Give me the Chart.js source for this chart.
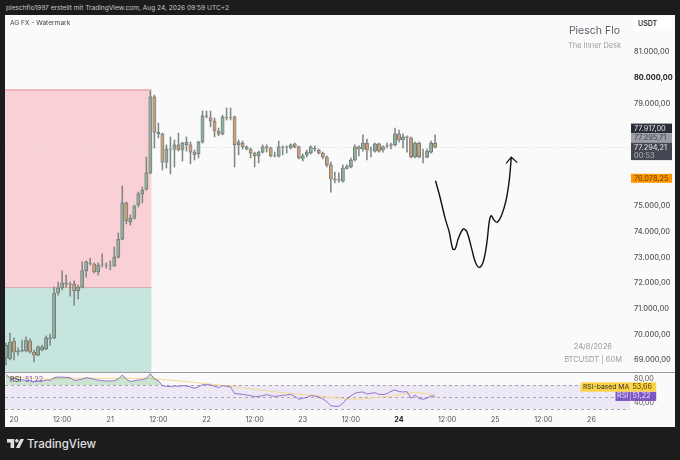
<!DOCTYPE html>
<html>
<head>
<meta charset="utf-8">
<title>BTCUSDT</title>
<script src="https://cdn.jsdelivr.net/npm/chart.js@4/dist/chart.umd.min.js"></script>
<style>
  html, body { margin: 0; padding: 0; width: 680px; height: 460px; overflow: hidden; background: #1c1c1c; font-family: Inter, "Noto Sans", sans-serif; }
  .txt { position: absolute; white-space: nowrap; }
  #panel { position: absolute; left: 5px; top: 15px; width: 670px; height: 412px; background: #fafafa; }
  #mainCanvas { position: absolute; left: 5px; top: 15px; }
  #rsiCanvas { position: absolute; left: 5px; top: 373px; }
  #sep { position: absolute; left: 5px; top: 372px; width: 670px; height: 1px; background: #9a9a9a; }
  #usdt { position: absolute; left: 633px; top: 16px; width: 39px; height: 15px; background: #fff; color: #333; font-size: 7px; font-weight: 600; line-height: 15px; text-indent: 5px; }
</style>
</head>
<body>
<div class="txt" style="left:6px;top:4px;color:#c8c8c8;font-size:6.6px;">pieschflo1997 erstellt mit TradingView.com, Aug 24, 2026 09:59 UTC+2</div>
<div id="panel"></div>
<canvas id="mainCanvas" width="670" height="357"></canvas>
<canvas id="rsiCanvas" width="670" height="54"></canvas>
<div id="sep"></div>
<div id="usdt">USDT</div>
<div class="txt" style="left:10px;top:19px;color:#444;font-size:6.6px;">AG FX - Watermark</div>
<div class="txt" style="right:60px;top:24px;color:#5d606b;font-size:10.5px;">Piesch Flo</div>
<div class="txt" style="right:59px;top:41px;color:#9a9ca3;font-size:7.4px;">The Inner Desk</div>
<div class="txt" style="right:68px;top:342px;color:#9a9ca3;font-size:7.6px;">24/8/2026</div>
<div class="txt" style="right:58px;top:355px;color:#9a9ca3;font-size:7.5px;">BTCUSDT | 60M</div>
<svg class="txt" style="left:7px;top:439px;" width="17" height="9" viewBox="0 0 19 10">
  <path d="M0 0H8V10H4V4H0Z M15 0H19L14 10H10Z" fill="#e0e0e0"/><circle cx="11" cy="2" r="2" fill="#e0e0e0"/>
</svg>
<div class="txt" style="left:27px;top:437px;color:#e0e0e0;font-size:11.5px;font-weight:500;">TradingView</div>

<script>
// hour offset from Aug 20 00:00, one candle per hour
var hours = [];
for (var n = -2; n <= 105; n++) hours.push(n);

var opens = [
  69080, 69040, 69740, 69310, 69350, 69350, 69740, 69310, 69190, 69390, 69430, 69820,
  69860, 71610, 71810, 71960, 71960, 71960, 71690, 71840, 72470, 72780, 72740, 72430,
  72700, 72700, 72690, 72660, 73010, 73710, 75120, 74380, 74530, 75040, 75470, 75660,
  76290, 79250, 77810, 77800, 76710, 77220, 77210, 77380, 77180, 77380, 77380, 77100,
  77030, 77490, 78510, 78430, 78310, 77920, 77800, 78430, 78440, 78470, 77380, 77450,
  77220, 77220, 77060, 76950, 77100, 77300, 77260, 76950, 76940, 77300, 77290, 77260,
  77420, 77300, 76830, 76990, 77060, 77220, 77180, 77060, 76910, 76600, 76050, 76030,
  75970, 76460, 76520, 76790, 77300, 77220, 77450, 77180, 77140, 77420, 77180, 77340,
  77360, 77380, 77810, 77570, 77690, 77650, 76910, 77450, 76910, 76900, 77100, 77450
];
var closes = [
  69580, 69700, 69310, 69350, 69390, 69780, 69310, 69190, 69510, 69510, 69860, 69860,
  71610, 71810, 72000, 72000, 71940, 71690, 71840, 72470, 72820, 72760, 72430, 72700,
  72710, 72690, 72700, 73010, 73710, 75120, 74420, 74530, 75000, 75470, 75620, 76290,
  79250, 77880, 77880, 76710, 77220, 77200, 77380, 77180, 77450, 77490, 77100, 76990,
  77490, 78510, 78490, 78310, 77920, 77800, 78470, 78440, 78430, 77380, 77490, 77300,
  77300, 77060, 76950, 77100, 77300, 77260, 76950, 76940, 77300, 77290, 77300, 77380,
  77300, 76870, 76950, 77100, 77300, 77260, 77060, 76910, 76600, 76050, 76030, 76010,
  76480, 76540, 76790, 77300, 77220, 77450, 77180, 77170, 77420, 77140, 77300, 77330,
  77380, 77810, 77570, 77690, 77670, 76910, 77450, 76910, 76900, 77140, 77450, 77294
];
var highs = [
  69660, 70050, 69860, 69470, 69780, 69900, 69820, 69390, 69550, 69580, 69940, 70010,
  71840, 72040, 72470, 72310, 72040, 72080, 71920, 72820, 72860, 72970, 72780, 72780,
  73130, 72780, 72860, 73400, 73950, 75780, 75150, 74650, 75040, 75540, 75740, 76910,
  79480, 79320, 78230, 77840, 77380, 77690, 77570, 77840, 77490, 77690, 77490, 77180,
  77530, 78700, 78700, 78700, 78430, 78040, 78540, 78820, 78820, 78510, 77570, 77530,
  77340, 77260, 77100, 77140, 77380, 77380, 77300, 77100, 77530, 77340, 77340, 77420,
  77450, 77340, 77030, 77180, 77340, 77340, 77220, 77100, 76950, 76710, 76320, 76290,
  76600, 76600, 76870, 77380, 77340, 77770, 77610, 77300, 77450, 77450, 77340, 77450,
  77450, 78040, 77960, 77810, 77730, 77690, 77490, 77490, 77220, 77220, 77530, 77770
];
var lows = [
  68810, 69000, 69000, 69190, 69310, 69310, 69270, 68920, 69160, 69350, 69390, 69580,
  69820, 71530, 71730, 71840, 71490, 71140, 71380, 71810, 72230, 72700, 72390, 72310,
  72620, 72580, 72510, 72650, 72970, 73680, 74300, 74260, 74490, 74960, 75120, 75620,
  76250, 77260, 77650, 76400, 76480, 76250, 76520, 77140, 76750, 77140, 76640, 76790,
  76870, 77450, 78430, 78080, 77690, 77730, 77770, 78350, 78350, 76520, 76990, 77220,
  77180, 76870, 76520, 76680, 77060, 77100, 76910, 76910, 76910, 76990, 77060, 77220,
  77260, 76830, 76750, 76910, 77030, 77140, 77030, 76830, 76520, 75540, 75900, 75930,
  75930, 76440, 76480, 76750, 76950, 77140, 76790, 76910, 77100, 77100, 77100, 77260,
  77220, 77340, 77490, 77260, 77100, 76870, 76870, 76870, 76680, 76870, 77060, 77260
];

var rsiValues = [
  87.8, 81.1, 81.1, 78.9, 78.9, 77.8, 77.2, 75.6, 77.2, 76.7, 78.3, 77.8,
  82.2, 83.3, 83.3, 82.8, 82.2, 77.8, 78.3, 80, 82.2, 81.1, 79.4, 78.3,
  77.2, 76.7, 76.7, 77.2, 80, 86.7, 80, 75.6, 77.2, 78.3, 78.9, 81.1,
  88.9, 80, 77.2, 68.9, 67.8, 67.2, 68.3, 67.8, 68.9, 68.3, 66.7, 64.4,
  66.7, 70.6, 70.6, 70, 67.8, 65.6, 68.9, 67.8, 66.7, 55.6, 55, 54.4,
  53.3, 52.2, 50.6, 51.1, 52.2, 53.9, 52.2, 51.1, 51.7, 52.8, 53.3, 54.4,
  51.1, 46.1, 47.8, 49.4, 52.2, 51.7, 50, 46.7, 42.2, 35.6, 34.4, 34.4,
  39.4, 47.2, 51.7, 56.1, 57.8, 58.3, 55, 56.1, 57.2, 54.4, 53.9, 55.6,
  59.4, 61.7, 58.9, 58.3, 58.9, 47.8, 53.3, 47.8, 46.1, 48.3, 51.7, 51.22
];
var rsiMaHours = [-2, 8, 17, 34, 45, 55, 66, 75, 81, 85, 91, 96, 100, 105];
var rsiMaValues = [84, 80, 81.5, 81, 74.4, 67.2, 57.8, 52.2, 47.8, 46, 49.4, 53.3, 57.8, 53.66];

// hand drawn path on the chart
var sketchHours = [105.1, 106.2, 107.5, 108.5, 109.4, 110, 110.8, 112, 112.9, 114.1, 115, 116, 117, 117.9, 118.5, 119, 119.7, 120.5, 121.6, 122.7, 123.5, 124];
var sketchPrices = [75985, 75360, 74520, 74000, 73325, 73325, 73740, 74100, 74000, 73350, 72830, 72610, 72830, 73550, 74390, 74620, 74450, 74365, 74650, 75230, 76010, 76900];
var arrowHours = [122.7, 124, 125.5];
var arrowPrices = [76660, 76900, 76690];

var priceTicks = [69000, 70000, 71000, 72000, 73000, 74000, 75000, 79000, 80000, 81000];
var rsiTicks = [40, 80];
var rsiLevels = [30, 50, 70];
var timeTicks = [0, 12, 24, 36, 48, 60, 72, 84, 96, 108, 120, 132, 144];
var timeLabels = ['20', '12:00', '21', '12:00', '22', '12:00', '23', '12:00', '24', '12:00', '25', '12:00', '26'];

var boxEndHour = 34.25;
var boxTopPrice = 79540;
var boxMidPrice = 71840;
var lastPrice = 77294.21;
var orangePrice = 76078.25;
var rsiLast = 51.22;
var rsiMaLast = 53.66;

var fontName = 'Inter, "Noto Sans", sans-serif';
var xMin = -2.25, xMax = 153.6;

function pairs(xs, ys) {
    var out = [];
    for (var i = 0; i < xs.length; i++) out.push({ x: xs[i], y: ys[i] });
    return out;
}

function fmt(v) {
    return v.toLocaleString('de-DE', { minimumFractionDigits: 2, maximumFractionDigits: 2 });
}

// custom tick lists make the scale reserve room for its first and last label, drop that
function noScalePadding(scale) {
    scale.paddingTop = 0;
    scale.paddingBottom = 0;
    scale.paddingLeft = 0;
    scale.paddingRight = 0;
}

var wickData = [], bodyData = [], bodyColors = [];
for (var i = 0; i < hours.length; i++) {
    wickData.push({ x: hours[i], y: [lows[i], highs[i]] });
    var lo = Math.min(opens[i], closes[i]);
    var hi = Math.max(opens[i], closes[i]);
    bodyData.push({ x: hours[i], y: [lo, hi] });
    bodyColors.push(closes[i] >= opens[i] ? '#93ab9f' : '#c99f82');
}

function tag(ctx, x, y, w, h, bg, color, text, textX, textY) {
    ctx.fillStyle = bg;
    ctx.fillRect(x, y, w, h);
    ctx.fillStyle = color;
    ctx.textAlign = 'left';
    ctx.textBaseline = 'middle';
    ctx.fillText(text, textX === undefined ? x + 3 : textX, textY === undefined ? y + h / 2 : textY);
}

var mainPlugin = {
    id: 'mainDecor',
    beforeDatasetsDraw: function(chart) {
        var c = chart.ctx, a = chart.chartArea, sx = chart.scales.x, sy = chart.scales.y;
        var right = sx.getPixelForValue(boxEndHour);
        var top = sy.getPixelForValue(boxTopPrice);
        var mid = sy.getPixelForValue(boxMidPrice);
        c.save();
        c.fillStyle = '#f8d0d5';
        c.fillRect(a.left, top, right - a.left, mid - top);
        c.fillStyle = '#c5e5de';
        c.fillRect(a.left, mid, right - a.left, a.bottom - mid);
        c.fillStyle = '#e68f96';
        c.fillRect(a.left, top, right - a.left, 1);
        c.fillStyle = '#d9a3a6';
        c.fillRect(a.left, mid, right - a.left, 1);
        c.strokeStyle = '#d8d8d8';
        c.lineWidth = 1;
        c.setLineDash([1, 2]);
        var py = Math.round(sy.getPixelForValue(lastPrice)) + 0.5;
        c.beginPath();
        c.moveTo(a.left, py);
        c.lineTo(a.right, py);
        c.stroke();
        c.restore();
    },
    afterDraw: function(chart) {
        var c = chart.ctx, sy = chart.scales.y;
        var x = 626, w = 41;
        var y3 = sy.getPixelForValue(lastPrice) - 4.5;
        c.save();
        c.font = '7.4px ' + fontName;
        tag(c, x, y3 - 19, w, 9.5, '#2a2e39', '#e6e6e6', fmt(77917));
        tag(c, x, y3 - 9.5, w, 9.5, '#9c9ea6', '#44464f', fmt(77295.71));
        tag(c, x, y3, w, 17.5, '#434651', '#e6e6e6', fmt(lastPrice), x + 3, y3 + 4.7);
        c.fillStyle = '#b8bac0';
        c.fillText('00:53', x + 3, y3 + 13);
        var oy = sy.getPixelForValue(orangePrice);
        tag(c, x, oy - 4.5, w, 9, '#ff9800', '#5a3a00', fmt(orangePrice));
        c.restore();
    }
};

var mainChart = new Chart(document.getElementById('mainCanvas'), {
    type: 'bar',
    data: {
        datasets: [
            {
                type: 'line', data: pairs(sketchHours, sketchPrices), borderColor: '#111', borderWidth: 1.4,
                pointRadius: 0, tension: 0.35, fill: false, order: 0
            },
            {
                type: 'line', data: pairs(arrowHours, arrowPrices), borderColor: '#111', borderWidth: 1.2,
                pointRadius: 0, tension: 0, fill: false, order: 0
            },
            {
                data: bodyData, backgroundColor: bodyColors, borderColor: '#5d6b64', borderWidth: 0.7,
                borderSkipped: false, barThickness: 3.2, grouped: false, order: 1
            },
            {
                data: wickData, backgroundColor: '#7f8784', borderWidth: 0,
                barThickness: 0.9, grouped: false, order: 2
            }
        ]
    },
    options: {
        responsive: false,
        animation: false,
        events: [],
        layout: { padding: 0 },
        plugins: { legend: { display: false }, tooltip: { enabled: false } },
        scales: {
            x: { type: 'linear', min: xMin, max: xMax, offset: false, display: false, grid: { display: false } },
            y: {
                position: 'right',
                min: 68532,
                max: 82441,
                grid: { display: false, drawTicks: false },
                border: { display: false },
                afterBuildTicks: function(scale) {
                    scale.ticks = priceTicks.map(function(v) { return { value: v }; });
                },
                afterFit: function(scale) { scale.width = 45; noScalePadding(scale); },
                ticks: {
                    autoSkip: false,
                    padding: 4,
                    color: function(ctx) { return ctx.tick && ctx.tick.value === 80000 ? '#222' : '#555'; },
                    font: function(ctx) {
                        return { family: fontName, size: 7.4, weight: ctx.tick && ctx.tick.value === 80000 ? '700' : '500' };
                    },
                    callback: function(v) { return fmt(v); }
                }
            }
        }
    },
    plugins: [mainPlugin]
});

var rsiPlugin = {
    id: 'rsiDecor',
    beforeDatasetsDraw: function(chart) {
        var c = chart.ctx, a = chart.chartArea, sy = chart.scales.y;
        var top = sy.getPixelForValue(70), bottom = sy.getPixelForValue(30);
        c.save();
        c.fillStyle = '#ede8f6';
        c.fillRect(a.left, top, a.right - a.left, bottom - top);
        c.strokeStyle = '#a9a7b0';
        c.lineWidth = 1;
        c.setLineDash([3, 3]);
        rsiLevels.forEach(function(v) {
            var y = Math.round(sy.getPixelForValue(v)) + 0.5;
            c.beginPath();
            c.moveTo(a.left, y);
            c.lineTo(a.right, y);
            c.stroke();
        });
        c.restore();
    },
    afterDraw: function(chart) {
        var c = chart.ctx, sy = chart.scales.y;
        var py = sy.getPixelForValue(rsiLast);
        c.save();
        c.font = '7.2px ' + fontName;
        tag(c, 610.5, py - 4.6, 15, 9.3, '#7e57c2', '#e8e0f8', 'RSI', 612);
        tag(c, 625.7, py - 4.6, 25.5, 9.3, '#7e57c2', '#e8e0f8', fmt(rsiLast), 627.5);
        c.font = '6.8px ' + fontName;
        tag(c, 575.7, py - 13.9, 49.8, 9.3, '#fdd144', '#333', 'RSI-based MA', 578);
        c.font = '7.2px ' + fontName;
        tag(c, 625.7, py - 13.9, 25.5, 9.3, '#fdd144', '#4a3a00', fmt(rsiMaLast), 627.5);
        c.textAlign = 'left';
        c.textBaseline = 'middle';
        c.fillStyle = '#333';
        c.fillText('RSI', 5, 7);
        c.fillStyle = '#7e57c2';
        c.fillText(fmt(rsiLast), 20, 7);
        c.restore();
    }
};

var rsiChart = new Chart(document.getElementById('rsiCanvas'), {
    type: 'line',
    data: {
        datasets: [
            {
                data: pairs(rsiMaHours, rsiMaValues), borderColor: '#f5d98c', borderWidth: 1,
                pointRadius: 0, fill: false, order: 2
            },
            {
                data: pairs(hours, rsiValues), borderColor: '#7e57c2', borderWidth: 0.8, pointRadius: 0,
                fill: { target: { value: 70 }, above: 'rgba(120,190,130,0.35)', below: 'rgba(0,0,0,0)' },
                order: 1
            }
        ]
    },
    options: {
        responsive: false,
        animation: false,
        events: [],
        layout: { padding: 0 },
        plugins: { legend: { display: false }, tooltip: { enabled: false } },
        scales: {
            x: {
                type: 'linear', min: xMin, max: xMax,
                grid: { display: false, drawTicks: false },
                border: { display: false },
                afterBuildTicks: function(scale) {
                    scale.ticks = timeTicks.map(function(v) { return { value: v }; });
                },
                afterFit: function(scale) { scale.height = 14; noScalePadding(scale); },
                ticks: {
                    autoSkip: false,
                    maxRotation: 0,
                    padding: 3,
                    color: function(ctx) { return ctx.tick && ctx.tick.value === 96 ? '#222' : '#555'; },
                    font: function(ctx) {
                        return { family: fontName, size: 7.2, weight: ctx.tick && ctx.tick.value === 96 ? '700' : '400' };
                    },
                    callback: function(v) { return timeLabels[timeTicks.indexOf(v)]; }
                }
            },
            y: {
                position: 'right',
                min: 23.3,
                max: 90,
                grid: { display: false, drawTicks: false },
                border: { display: false },
                afterBuildTicks: function(scale) {
                    scale.ticks = rsiTicks.map(function(v) { return { value: v }; });
                },
                afterFit: function(scale) { scale.width = 45; noScalePadding(scale); },
                ticks: {
                    padding: 4,
                    color: '#555',
                    font: { family: fontName, size: 7.2 },
                    callback: function(v) { return fmt(v); }
                }
            }
        }
    },
    plugins: [rsiPlugin]
});
</script>
</body>
</html>
